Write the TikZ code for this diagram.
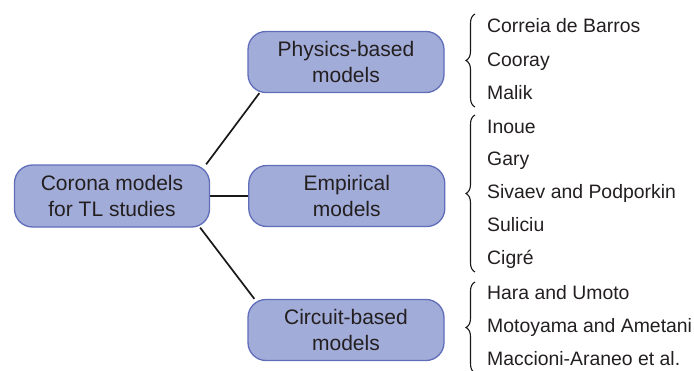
\documentclass[tikz,border=0pt]{standalone}
\usepackage{fontspec}
\setmainfont{Liberation Sans}
\usetikzlibrary{positioning, calc, decorations.pathreplacing, backgrounds}
\definecolor{boxfill}{RGB}{162,172,216}
\definecolor{boxline}{RGB}{96,110,186}
\definecolor{inkgray}{RGB}{35,31,32}

\begin{document}
\begin{tikzpicture}[x=1pt, y=-1pt,
        model/.style={rectangle, draw=boxline, fill=boxfill, rounded corners=18pt, minimum height=61pt, minimum width=196pt, align=center, line width=1.3pt, text=inkgray, font=\fontsize{21}{26}\selectfont},
        item/.style={anchor=base west, inner sep=0pt, text=inkgray, font=\fontsize{19.4}{23}\selectfont},
        link/.style={line width=1.7pt, black!90},
        curly/.style={decorate, decoration={brace, amplitude=9pt}, line width=1.1pt, black!90}
    ]
        \useasboundingbox (0,0) rectangle (694,370);

        % Root
        \node[model, minimum width=195pt, minimum height=62pt] (root) at (112,196) {Corona models\\for TL studies};

        % Model families
        \node[model] (phys) at (346,62) {Physics-based\\models};
        \node[model, right=38pt of root] (emp) {Empirical\\models};
        \node[model] (circ) at (346,330) {Circuit-based\\models};

        % Links
        \begin{scope}[on background layer]
            \draw[link] ($(root.north east)+(-4pt,0)$) -- ($(phys.south west)+(12pt,0)$);
            \draw[link] (root) -- (emp);
            \draw[link] ($(root.south east)+(-10pt,0)$) -- ($(circ.north west)+(7pt,0)$);
        \end{scope}

        % Authors
        \foreach \name/\txt/\y in {barros/Correia de Barros/32, cooray/Cooray/66, malik/Malik/99,
                inoue/Inoue/133, gary/Gary/165, sivaev/Sivaev and Podporkin/198, suliciu/Suliciu/231, cigre/Cigré/264,
                hara/Hara and Umoto/299, motoyama/Motoyama and Ametani/332, maccioni/Maccioni-Araneo et al./365}
            \node[item] (\name) at (487,\y) {\txt};

        % Braces
        \draw[curly] ($(malik.base west)+(-12pt,-8pt)$) -- ($(barros.base west)+(-12pt,18pt)$);
        \draw[curly] ($(cigre.base west)+(-12pt,-8pt)$) -- ($(inoue.base west)+(-12pt,18pt)$);
        \draw[curly] ($(maccioni.base west)+(-12pt,-8pt)$) -- ($(hara.base west)+(-12pt,17pt)$);
    \end{tikzpicture}
\end{document}
